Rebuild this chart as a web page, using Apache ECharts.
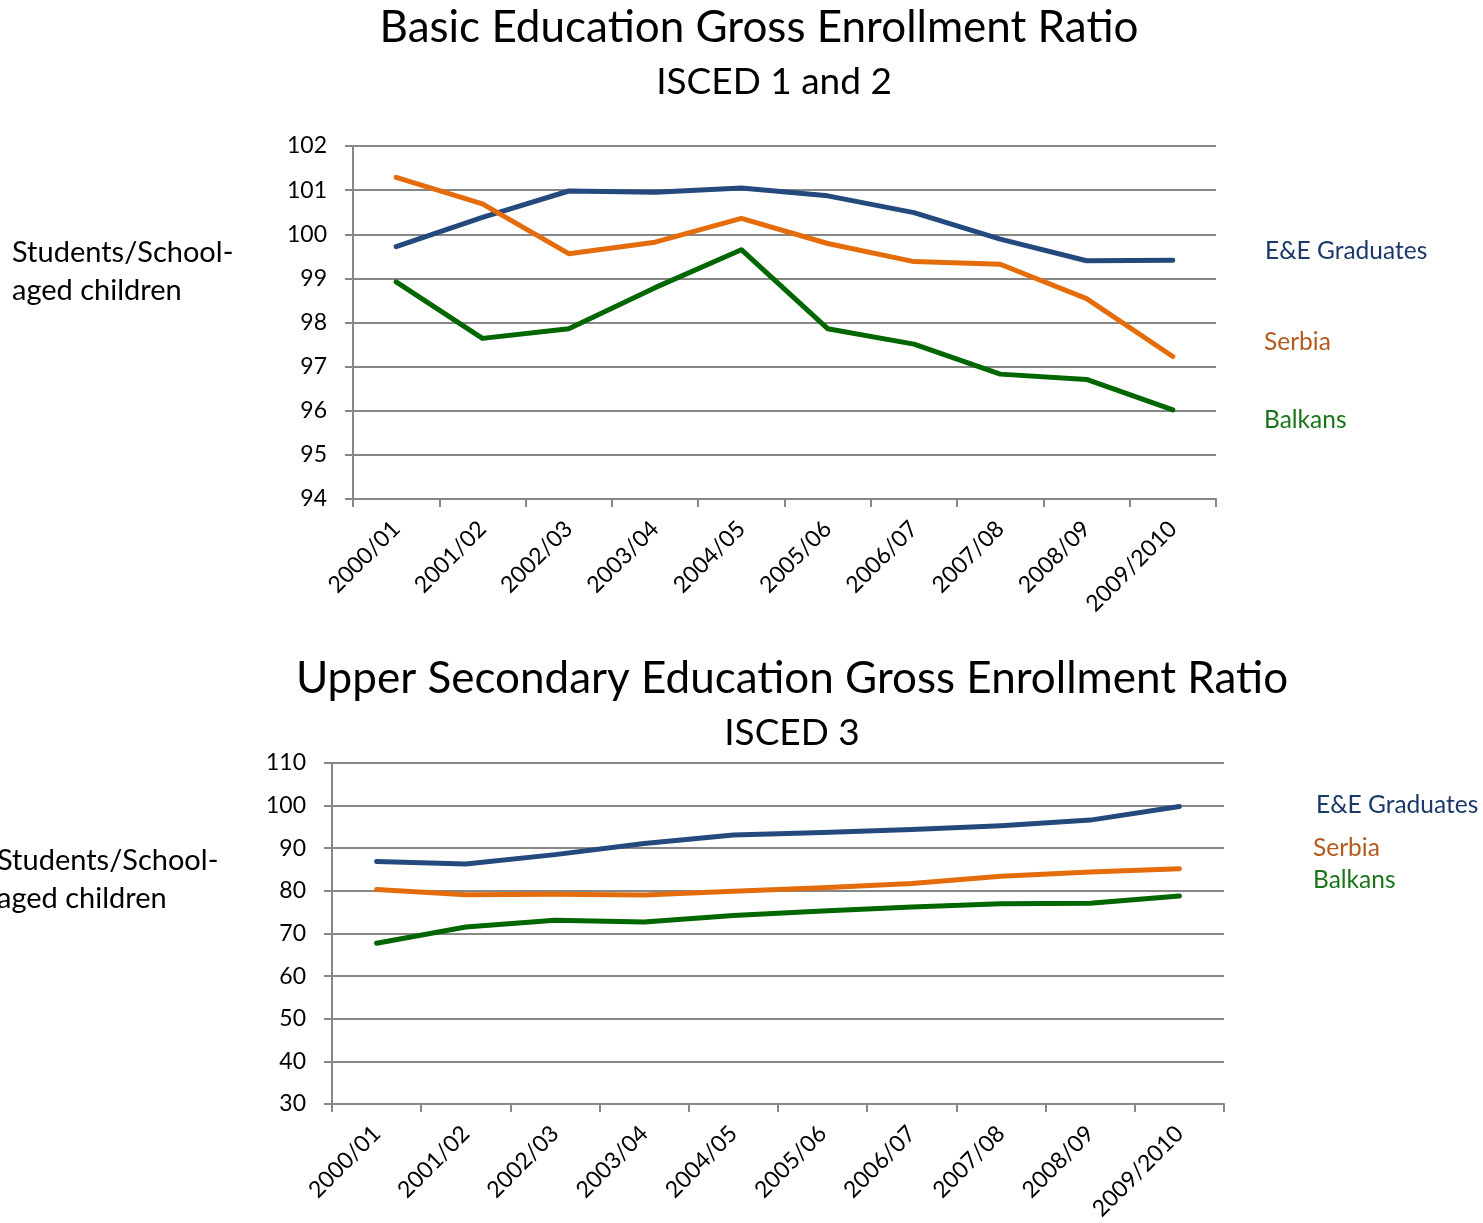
<!DOCTYPE html>
<html>
<head>
<meta charset="utf-8">
<title>Gross Enrollment Ratio</title>
<script src="https://cdn.jsdelivr.net/npm/echarts@6/dist/echarts.min.js"></script>
<style>
  html, body { margin: 0; padding: 0; background: #ffffff; }
  #chart { width: 1483px; height: 1223px; }
</style>
</head>
<body>
<div id="chart"></div>
<script>
// School years shown on both category axes
const years = ['2000/01', '2001/02', '2002/03', '2003/04', '2004/05',
               '2005/06', '2006/07', '2007/08', '2008/09', '2009/2010'];

// Basic education (ISCED 1 and 2) gross enrollment ratio
const basicEEGraduates = [99.72, 100.38, 100.98, 100.95, 101.05, 100.87, 100.49, 99.89, 99.40, 99.41];
const basicSerbia      = [101.29, 100.69, 99.56, 99.82, 100.36, 99.79, 99.38, 99.32, 98.54, 97.23];
const basicBalkans     = [98.92, 97.64, 97.86, 98.79, 99.65, 97.86, 97.51, 96.83, 96.71, 96.02];

// Upper secondary education (ISCED 3) gross enrollment ratio
const upperEEGraduates = [86.9, 86.3, 88.5, 91.1, 93.1, 93.7, 94.4, 95.3, 96.6, 99.8];
const upperSerbia      = [80.3, 79.1, 79.2, 79.0, 79.9, 80.7, 81.7, 83.4, 84.4, 85.2];
const upperBalkans     = [67.7, 71.5, 73.1, 72.7, 74.2, 75.3, 76.2, 77.0, 77.1, 78.8];

// Value axis ranges
const basicAxis = { min: 94, max: 102, interval: 1 };
const upperAxis = { min: 30, max: 110, interval: 10 };

const FONT = 'Lato, "Open Sans", sans-serif';
const GRID_GRAY = '#878787';
const COLORS = { ee: '#24497c', serbia: '#e46c0a', balkans: '#006600' };
const TEXT_COLORS = { ee: '#1b3869', serbia: '#b35a1c', balkans: '#1a741a' };

function categoryAxis(gridIndex) {
  return {
    type: 'category',
    gridIndex: gridIndex,
    data: years,
    boundaryGap: true,
    axisLine: { lineStyle: { color: GRID_GRAY, width: 2 } },
    axisTick: { show: true, inside: false, length: 8, alignWithLabel: false,
                lineStyle: { color: GRID_GRAY, width: 2 } },
    axisLabel: { rotate: 45, margin: 26, color: '#000000', fontSize: 23, fontFamily: FONT, interval: 0 },
    splitLine: { show: false }
  };
}

function valueAxis(gridIndex, range) {
  return {
    type: 'value',
    gridIndex: gridIndex,
    min: range.min,
    max: range.max,
    interval: range.interval,
    axisLine: { show: true, lineStyle: { color: GRID_GRAY, width: 2 } },
    axisTick: { show: true, inside: false, length: 8, lineStyle: { color: GRID_GRAY, width: 2 } },
    axisLabel: { margin: 26, color: '#000000', fontSize: 23, fontFamily: FONT },
    splitLine: { show: true, lineStyle: { color: GRID_GRAY, width: 2 } }
  };
}

function lineSeries(name, data, color, axisIndex) {
  return {
    name: name,
    type: 'line',
    xAxisIndex: axisIndex,
    yAxisIndex: axisIndex,
    data: data,
    symbol: 'none',
    smooth: false,
    lineStyle: { color: color, width: 5, cap: 'round', join: 'round' },
    emphasis: { disabled: true },
    z: 3
  };
}

function label(text, x, y, size, color, align) {
  return {
    type: 'text',
    x: x,
    y: y,
    silent: true,
    style: {
      text: text,
      fill: color,
      font: size + 'px ' + FONT,
      textAlign: align || 'left',
      textVerticalAlign: 'middle'
    }
  };
}

const chart = echarts.init(document.getElementById('chart'), null, { renderer: 'canvas' });

chart.setOption({
  backgroundColor: '#ffffff',
  animation: false,
  grid: [
    { left: 353, top: 146, width: 863, height: 353, containLabel: false },
    { left: 332, top: 763, width: 892, height: 342, containLabel: false }
  ],
  xAxis: [categoryAxis(0), categoryAxis(1)],
  yAxis: [valueAxis(0, basicAxis), valueAxis(1, upperAxis)],
  series: [
    lineSeries('E&E Graduates', basicEEGraduates, COLORS.ee, 0),
    lineSeries('Serbia', basicSerbia, COLORS.serbia, 0),
    lineSeries('Balkans', basicBalkans, COLORS.balkans, 0),
    lineSeries('E&E Graduates', upperEEGraduates, COLORS.ee, 1),
    lineSeries('Serbia', upperSerbia, COLORS.serbia, 1),
    lineSeries('Balkans', upperBalkans, COLORS.balkans, 1)
  ],
  graphic: [
    // Basic education panel
    label('Basic Education Gross Enrollment Ratio', 759, 28, 44, '#000000', 'center'),
    label('ISCED 1 and 2', 774, 82, 37, '#000000', 'center'),
    label('Students/School-', 12, 253, 29, '#000000'),
    label('aged children', 12, 291, 29, '#000000'),
    label('E&E Graduates', 1265, 251, 24.5, TEXT_COLORS.ee),
    label('Serbia', 1264, 342, 24.5, TEXT_COLORS.serbia),
    label('Balkans', 1264, 420, 24.5, TEXT_COLORS.balkans),
    // Upper secondary panel
    label('Upper Secondary Education Gross Enrollment Ratio', 792, 679, 44, '#000000', 'center'),
    label('ISCED 3', 792, 733, 37, '#000000', 'center'),
    label('Students/School-', -3, 861, 29, '#000000'),
    label('aged children', -3, 899, 29, '#000000'),
    label('E&E Graduates', 1316, 805, 24.5, TEXT_COLORS.ee),
    label('Serbia', 1313, 848, 24.5, TEXT_COLORS.serbia),
    label('Balkans', 1313, 880, 24.5, TEXT_COLORS.balkans)
  ]
});
</script>
</body>
</html>
